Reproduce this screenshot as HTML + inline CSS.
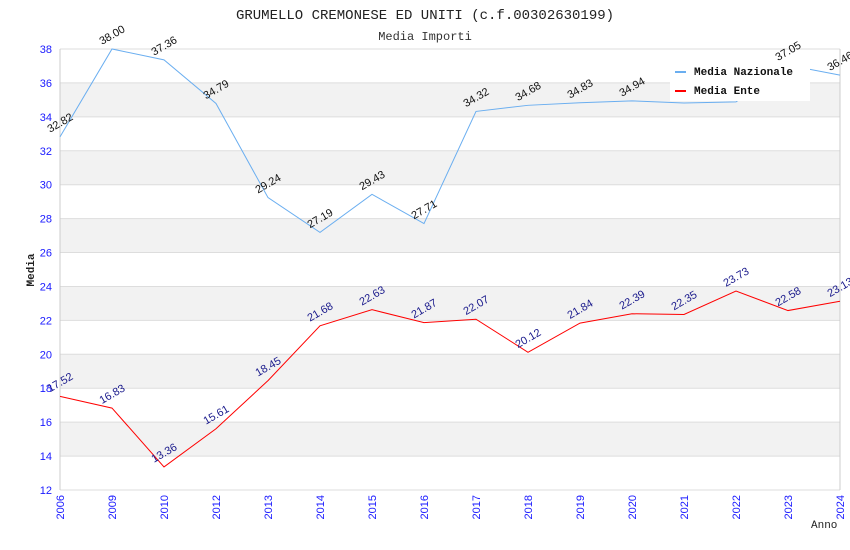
<!DOCTYPE html>
<html><head><meta charset="utf-8"><style>
html,body{margin:0;padding:0;background:#fff;}
svg{display:block;}
</style></head><body>
<svg id="chart" width="850" height="550" xmlns="http://www.w3.org/2000/svg">
<text x="425" y="19" text-anchor="middle" font-family="Liberation Mono, monospace" font-size="14" fill="#222">GRUMELLO CREMONESE ED UNITI (c.f.00302630199)</text>
<text x="425" y="40" text-anchor="middle" font-family="Liberation Mono, monospace" font-size="12" fill="#333">Media Importi</text>
<g id="bands"></g>
<g id="grid"></g>
<g id="yticks"></g>
<g id="xticks"></g>
<g id="series"></g>
<text transform="translate(34,270) rotate(-90)" text-anchor="middle" font-family="Liberation Mono, monospace" font-size="11" font-weight="bold" fill="#222">Media</text>
<text x="811" y="528" font-family="Liberation Mono, monospace" font-size="11" fill="#222">Anno</text>
<g>
<rect x="670" y="61" width="140" height="40" fill="#fff"/>
<rect x="675" y="71" width="11" height="2" fill="#6aaef0"/>
<text x="694" y="75" font-family="Liberation Mono, monospace" font-size="11" font-weight="bold" fill="#111">Media Nazionale</text>
<rect x="675" y="90" width="11" height="2" fill="#ff0000"/>
<text x="694" y="94" font-family="Liberation Mono, monospace" font-size="11" font-weight="bold" fill="#111">Media Ente</text>
</g>
</svg>
<script>
const categories = ['2006','2009','2010','2012','2013','2014','2015','2016','2017','2018','2019','2020','2021','2022','2023','2024'];
const nazionale = [32.82,38.00,37.36,34.79,29.24,27.19,29.43,27.71,34.32,34.68,34.83,34.94,34.82,34.88,37.05,36.46];
const ente = [17.52,16.83,13.36,15.61,18.45,21.68,22.63,21.87,22.07,20.12,21.84,22.39,22.35,23.73,22.58,23.13];
const yTicks = [12,14,16,18,20,22,24,26,28,30,32,34,36,38];
const hideLabel = [false,false,false,false,false,false,false,false,false,false,false,false,true,true,false,false];

const NS='http://www.w3.org/2000/svg';
const L=60,R=840,T=49,B=490,ymin=12,ymax=38;
function xs(i){return L+i*(R-L)/(categories.length-1);}
function ys(v){return B-(v-ymin)*(B-T)/(ymax-ymin);}
function mk(tag,attrs,parent){const e=document.createElementNS(NS,tag);for(const k in attrs)e.setAttribute(k,attrs[k]);document.getElementById(parent).appendChild(e);return e;}

for(let k=0;k<yTicks.length-1;k++){
  if(k%2===1){
    const r=mk('rect',{x:L,y:ys(yTicks[k+1]),width:R-L,height:ys(yTicks[k])-ys(yTicks[k+1]),fill:'#f2f2f2'},'bands');
    
    
  }
}
yTicks.forEach(v=>{
  const g=mk('line',{x1:L,x2:R,y1:ys(v),y2:ys(v),stroke:'#dddddd','stroke-width':1},'grid');
  
  
  const t=mk('text',{x:52,y:ys(v)+4,'text-anchor':'end','font-family':'Liberation Sans, sans-serif','font-size':11,fill:'#1a1aff'},'yticks');
  t.textContent=v;
  
  
});
const ax=mk('line',{x1:L,x2:L,y1:T,y2:B,stroke:'#ccc'},'grid');


const ax2=mk('line',{x1:R,x2:R,y1:T,y2:B,stroke:'#ccc'},'grid');


categories.forEach((c,i)=>{
  const t=mk('text',{transform:`translate(${xs(i)+4},${B+5}) rotate(-90)`,'text-anchor':'end','font-family':'Liberation Sans, sans-serif','font-size':11,fill:'#1a1aff'},'xticks');
  t.textContent=c;
  
  
});
function drawSeries(vals,color,labelColor,name,hide){
  const pts=vals.map((v,i)=>xs(i)+','+ys(v)).join(' ');
  const p=mk('polyline',{points:pts,fill:'none',stroke:color,'stroke-width':1},'series');
  
  
  vals.forEach((v,i)=>{
    if(hide&&hide[i])return;
    const t=mk('text',{transform:`translate(${xs(i)-10},${ys(v)-4}) rotate(-30)`,'font-family':'Liberation Sans, sans-serif','font-size':11,fill:labelColor},'series');
    t.textContent=v.toFixed(2);
    
    
  });
}
drawSeries(nazionale,'#6aaef0','#111','nazionale',hideLabel);
drawSeries(ente,'#ff0000','#1a1a8c','ente',null);
</script>
</body></html>
